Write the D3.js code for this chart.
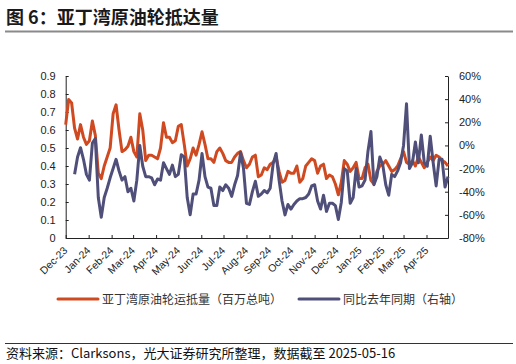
<!DOCTYPE html>
<html>
<head>
<meta charset="utf-8">
<script src="https://cdn.jsdelivr.net/npm/d3@7"></script>
<style>
  body { margin: 0; background: #fff; }
  text { font-family: "Liberation Sans", Arial, sans-serif; }
  .cn { font-family: "Noto Sans CJK SC", "Noto Sans", sans-serif; }
</style>
</head>
<body>
<div id="chart"></div>
<script>
// 数据：每4天一个点，起点 2023-12-18
var startDate = "2023-12-18";
var stepDays = 4;
var seriesNames = ["亚丁湾原油轮运抵量（百万总吨）", "同比去年同期（右轴）"];
var leftTicks = [0, 0.1, 0.2, 0.3, 0.4, 0.5, 0.6, 0.7, 0.8, 0.9];
var rightTicks = [-80, -60, -40, -20, 0, 20, 40, 60];
// 运抵量（百万总吨）
var arrivals = [
  0.63, 0.77, 0.75, 0.61, 0.55, 0.63, 0.56, 0.52, 0.54, 0.65,
  0.57, 0.36, 0.33, 0.40, 0.45, 0.50, 0.69, 0.74, 0.60, 0.48,
  0.49, 0.51, 0.56, 0.48, 0.45, 0.69, 0.60, 0.43, 0.46, 0.46,
  0.45, 0.44, 0.50, 0.64, 0.56, 0.56, 0.53, 0.54, 0.62, 0.63,
  0.52, 0.40, 0.44, 0.50, 0.46, 0.52, 0.59, 0.52, 0.44, 0.44,
  0.42, 0.48, 0.50, 0.47, 0.43, 0.42, 0.42, 0.45, 0.47, 0.48,
  0.43, 0.39, 0.41, 0.45, 0.46, 0.34, 0.35, 0.39, 0.38, 0.41,
  0.42, 0.45, 0.37, 0.31, 0.32, 0.37, 0.36, 0.36, 0.40, 0.31,
  0.33, 0.40, 0.42, 0.44, 0.43, 0.36, 0.40, 0.41, 0.33, 0.35,
  0.34, 0.30, 0.24, 0.31, 0.43, 0.41, 0.37, 0.39, 0.42, 0.33,
  0.33, 0.39, 0.41, 0.32, 0.30, 0.37, 0.40, 0.41, 0.43, 0.40,
  0.37, 0.38, 0.40, 0.44, 0.48, 0.42, 0.41, 0.43, 0.40, 0.45,
  0.42, 0.39, 0.42, 0.45, 0.43, 0.46, 0.45, 0.43, 0.42, 0.40
];
// 同比（%），右轴
var yoy = [
  null, null, null, -25, -10, -2, -12, -25, -30, 2,
  6, -45, -62, -45, -37, -28, -20, -12, -22, -30,
  -27, -40, -37, -48, -30, 0, -18, -27, -27, -28,
  -34, -29, -30, -15, -20, -25, -17, -27, -25, -8,
  -10, -45, -60, -42, -42, -30, -7, -27, -36, -37,
  -52, -52, -36, -39, -34, -37, -44, -34, -26, -6,
  -20, -50, -51, -40, -31, -44, -42, -39, -41, -37,
  -16, -7, -30, -48, -60, -51, -55, -51, -48, -46,
  -46, -45, -42, -35, -34, -48, -55, -43, -57, -50,
  -50, -52, -64, -49, -20, -22, -50, -45, -20, -36,
  -35, -30, -5, 12, -34, -27, -10, -17, -34, -43,
  -25, -27, -22, -15, 0, 36, -20, -15, 3, -15,
  9, -15, -18, 8, -15, -35, -12, -12, -36, -27
];

var W = 516, H = 364;
var margin = { left: 65.7, right: 68, top: 76, bottom: 126 };
var orange = "#cf4a21", navy = "#4f4f7a";

var t0 = d3.isoParse(startDate);
var dates = arrivals.map(function (d, i) { return d3.timeDay.offset(t0, i * stepDays); });

var svg = d3.select("#chart").append("svg")
  .attr("width", W).attr("height", H);
svg.append("rect").attr("width", W).attr("height", H).attr("fill", "#fff");

// 标题
svg.append("text").attr("class", "cn")
  .attr("x", 6).attr("y", 24)
  .attr("font-size", 18).attr("font-weight", "bold").attr("fill", "#1a1a1a")
  .text("图 6：亚丁湾原油轮抵达量");
svg.append("line").attr("x1", 5).attr("x2", 513).attr("y1", 31.5).attr("y2", 31.5)
  .attr("stroke", "#8a8a8a").attr("stroke-width", 2);

var x = d3.scaleTime()
  .domain([dates[0], dates[dates.length - 1]])
  .range([margin.left, W - margin.right]);
var yL = d3.scaleLinear().domain([0, 0.9]).range([H - margin.bottom, margin.top]);
var yR = d3.scaleLinear().domain([-80, 60]).range([H - margin.bottom, margin.top]);

var monthTicks = d3.range(17).map(function (i) { return d3.timeMonth.offset(t0, i); });

// 坐标轴
var gx = svg.append("g").attr("transform", "translate(0," + (H - margin.bottom) + ")")
  .call(d3.axisBottom(x).tickValues(monthTicks).tickSizeInner(-3).tickSizeOuter(0)
    .tickFormat(d3.timeFormat("%b-%y")));
gx.selectAll("text")
  .attr("y", 0).attr("dy", 0).attr("x", 0)
  .attr("text-anchor", "end")
  .attr("transform", "translate(2,13) rotate(-45)");

var gl = svg.append("g").attr("transform", "translate(" + margin.left + ",0)")
  .call(d3.axisLeft(yL).tickValues(leftTicks).tickSizeInner(-3).tickSizeOuter(0).tickPadding(10)
    .tickFormat(function (d) { return d === 0 ? "0" : d3.format(".1f")(d); }));

var gr = svg.append("g").attr("transform", "translate(" + (W - margin.right) + ",0)")
  .call(d3.axisRight(yR).tickValues(rightTicks).tickSizeInner(-3).tickSizeOuter(0).tickPadding(11)
    .tickFormat(function (d) { return d + "%"; }));

[gx, gl, gr].forEach(function (g) {
  g.select(".domain").attr("stroke", "#222");
  g.selectAll(".tick line").attr("stroke", "#222");
  g.selectAll("text").attr("font-size", 11).attr("fill", "#222")
    .attr("font-family", "'Liberation Sans', Arial, sans-serif");
});
gx.selectAll("text").attr("font-size", 10.5);

// 折线
var lineL = d3.line()
  .defined(function (d) { return d != null; })
  .x(function (d, i) { return x(dates[i]); })
  .y(function (d) { return yL(d); });
var lineR = d3.line()
  .defined(function (d) { return d != null; })
  .x(function (d, i) { return x(dates[i]); })
  .y(function (d) { return yR(d); });

svg.append("path").datum(arrivals)
  .attr("d", lineL).attr("fill", "none")
  .attr("stroke", orange).attr("stroke-width", 3).attr("stroke-linejoin", "round");
svg.append("path").datum(yoy)
  .attr("d", lineR).attr("fill", "none")
  .attr("stroke", navy).attr("stroke-width", 3).attr("stroke-linejoin", "round");

// 图例
var legend = [
  { name: seriesNames[0], color: orange, x: 58 },
  { name: seriesNames[1], color: navy, x: 299 }
];
var lg = svg.selectAll("g.legend").data(legend).enter().append("g")
  .attr("class", "legend")
  .attr("transform", function (d) { return "translate(" + d.x + ",299)"; });
lg.append("line").attr("x1", 0).attr("x2", 40).attr("y1", 0).attr("y2", 0)
  .attr("stroke", function (d) { return d.color; }).attr("stroke-width", 3)
  .attr("stroke-linecap", "round");
lg.append("text").attr("class", "cn")
  .attr("x", 44).attr("y", 4.5)
  .attr("font-size", 12).attr("fill", "#333")
  .text(function (d) { return d.name; });

// 资料来源
svg.append("line").attr("x1", 5).attr("x2", 513).attr("y1", 343.5).attr("y2", 343.5)
  .attr("stroke", "#333").attr("stroke-width", 1);
svg.append("text").attr("class", "cn")
  .attr("x", 6).attr("y", 358)
  .attr("font-size", 13).attr("fill", "#111")
  .text("资料来源：Clarksons，光大证券研究所整理，数据截至 2025-05-16");
</script>
</body>
</html>
